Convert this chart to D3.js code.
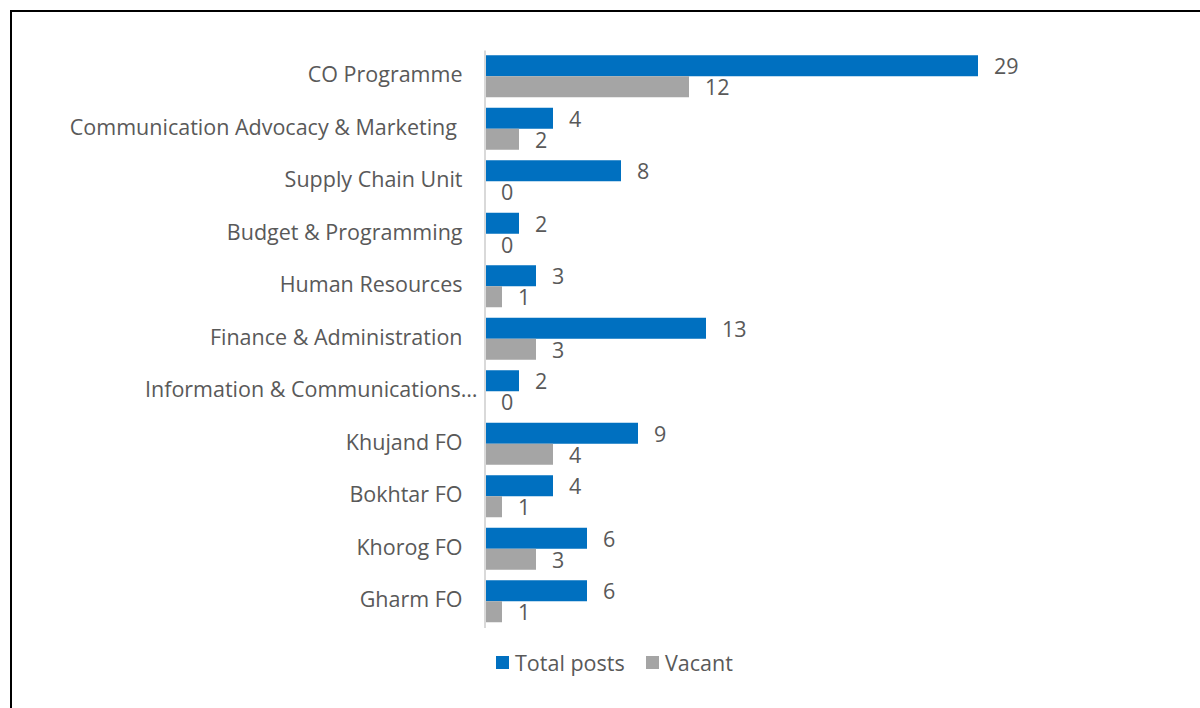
<!DOCTYPE html>
<html><head><meta charset="utf-8">
<script src="https://cdn.jsdelivr.net/npm/d3@7"></script>
<style>
html,body{margin:0;padding:0;background:#fff;}
svg text{font-family:"Open Sans",sans-serif;fill:#595959;}
</style></head>
<body>
<svg id="chart" width="1200" height="708"></svg>
<script>
const categories = ["CO Programme","Communication Advocacy & Marketing\u00a0","Supply Chain Unit","Budget & Programming","Human Resources","Finance & Administration","Information & Communications…","Khujand FO","Bokhtar FO","Khorog FO","Gharm FO"];
const totalPosts = [29,4,8,2,3,13,2,9,4,6,6];
const vacant = [12,2,0,0,1,3,0,4,1,3,1];
const seriesNames = ["Total posts","Vacant"];
const colors = ["#0070C0","#A5A5A5"];

const FS = 21.5;
const svg = d3.select("#chart");
// frame
svg.append("rect").attr("x",11).attr("y",11).attr("width",1200).attr("height",720)
  .attr("fill","none").attr("stroke","#000").attr("stroke-width",2);

const x = d3.scaleLinear().domain([0,29]).range([485,978]);
const y = d3.scaleBand().domain(categories).range([50,627.5]).paddingInner(0).paddingOuter(0);
const barH = 21;

const series = [totalPosts, vacant];
categories.forEach((c,i)=>{
  const cy = y(c) + y.bandwidth()/2;
  series.forEach((s,k)=>{
    const top = cy - barH + k*barH;
    svg.append("rect").attr("x",x(0)).attr("y",top)
      .attr("width",x(s[i])-x(0)).attr("height",barH).attr("fill",colors[k]);
    svg.append("text").attr("x",x(s[i])+16).attr("y",top+barH/2)
      .attr("dominant-baseline","central").attr("font-size",FS).text(s[i]);
  });
});

// axis
const yAxis = d3.axisLeft(y).tickSize(0).tickPadding(22);
const g = svg.append("g").attr("transform",`translate(${x(0)-0.5},0)`).call(yAxis);
g.select(".domain").attr("stroke","#D9D9D9").attr("stroke-width",2);
g.selectAll("text").attr("font-size",FS).attr("fill","#595959").attr("dy","0.28em")
  .style("font-family","'Open Sans',sans-serif");
// truncated label sits closer to the axis, as in the reference
g.selectAll(".tick").filter(d => d.endsWith("…")).select("text").attr("dx", 15);

// legend
const leg = svg.append("g");
const legX = [496, 646];
seriesNames.forEach((n,k)=>{
  leg.append("rect").attr("x",legX[k]).attr("y",656).attr("width",13).attr("height",13).attr("fill",colors[k]);
  leg.append("text").attr("x",legX[k]+19).attr("y",662).attr("dominant-baseline","central")
    .attr("font-size",FS).text(n);
});
</script>
</body></html>
